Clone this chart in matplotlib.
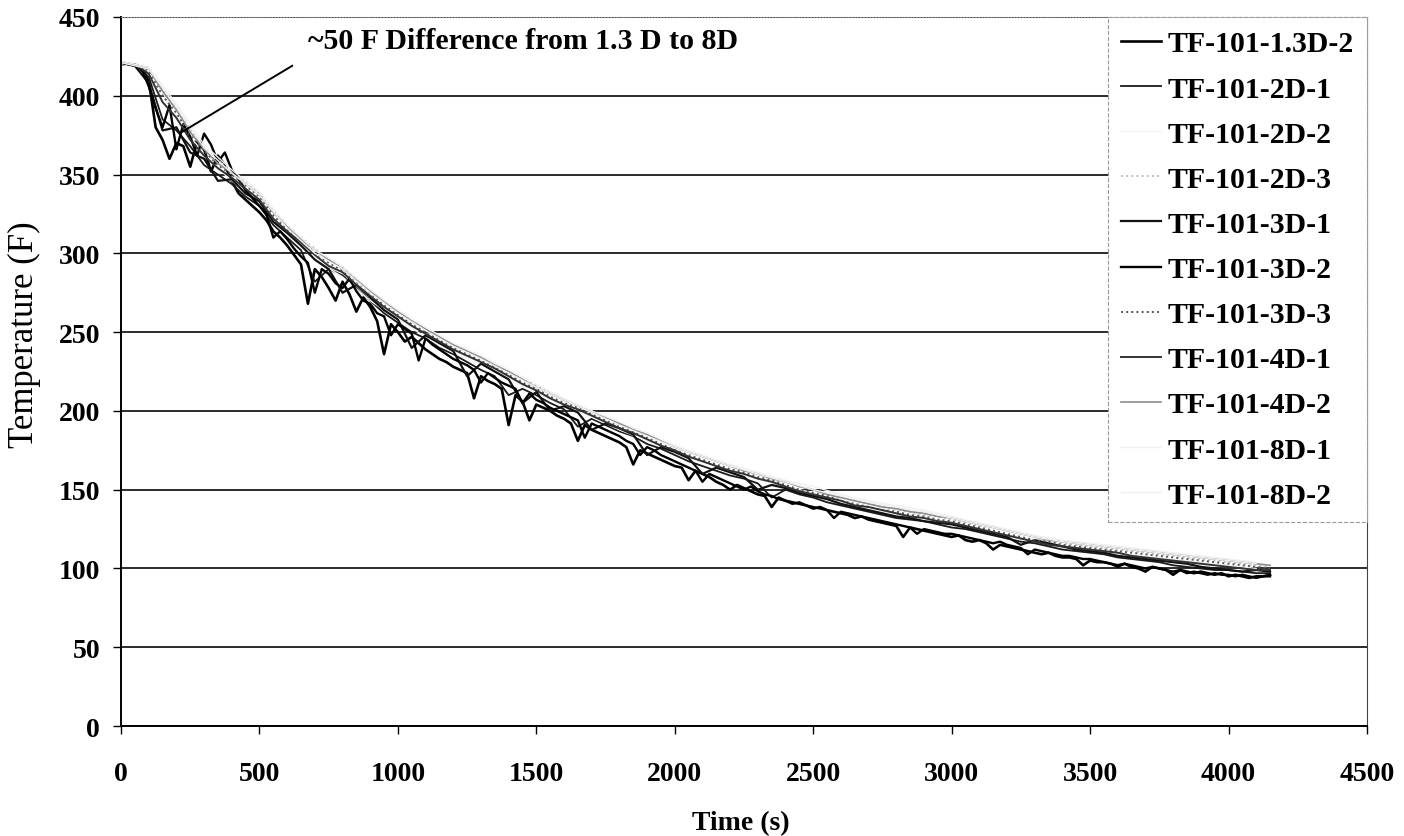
import numpy as np
from matplotlib import pyplot as plt

# sample times (s)
t_fine = np.arange(0, 4151, 25)
t_mid = np.arange(0, 4151, 50)
t_coarse = np.arange(0, 4101, 100)

# thermocouple temperatures (F)
tf_13d_2 = [420, 420, 419, 418, 410, 380, 372, 360, 370, 368, 355, 371, 366, 352, 362, 356, 346, 338, 334, 330,
            326, 321, 314, 310, 305, 299, 293, 268, 290, 285, 278, 270, 282, 274, 263, 272, 266, 257, 236, 255,
            250, 244, 247, 243, 239, 236, 233, 231, 228, 226, 224, 208, 222, 219, 217, 214, 191, 210, 206, 194,
            204, 202, 200, 197, 195, 192, 181, 191, 188, 186, 184, 182, 180, 177, 166, 175, 173, 171, 169, 167,
            165, 164, 156, 162, 160, 158, 155, 153, 150, 153, 151, 149, 147, 146, 139, 145, 143, 142, 141, 140,
            138, 139, 137, 136, 135, 134, 132, 133, 131, 130, 129, 128, 127, 120, 126, 125, 124, 123, 122, 121,
            120, 121, 118, 117, 118, 116, 112, 115, 114, 113, 112, 111, 110, 109, 110, 108, 107, 107, 106, 102,
            105, 104, 104, 103, 102, 103, 101, 100, 98, 101, 100, 99, 96, 99, 98, 97, 98, 97, 96, 97,
            95, 96, 95, 94, 95, 95, 96]
tf_2d_1 = [420, 419, 412, 385, 378, 368, 356, 350, 344, 336,
           330, 318, 310, 302, 282, 290, 286, 278, 270, 262,
           256, 250, 246, 240, 236, 231, 226, 222, 210, 214,
           210, 205, 201, 190, 195, 191, 187, 184, 179, 176,
           172, 168, 165, 162, 159, 157, 154, 145, 150, 147,
           145, 142, 140, 138, 136, 134, 132, 131, 130, 128,
           126, 125, 123, 121, 119, 117, 116, 114, 112, 111,
           110, 109, 107, 106, 105, 104, 102, 101, 100, 99,
           99, 98, 97, 97]
tf_2d_2 = [420, 416, 388, 362, 346, 332, 312, 296, 285, 270, 258, 247, 237, 229, 220, 211, 203, 196, 188, 181, 174,
           168, 162, 157, 152, 148, 143, 139, 136, 133, 129, 125, 121, 118, 115, 112, 110, 108, 106, 104, 102, 100]
tf_2d_3 = [421, 420, 418, 404, 393, 379, 367, 359, 352, 346,
           338, 327, 318, 310, 303, 296, 291, 284, 276, 269,
           263, 257, 252, 247, 242, 238, 234, 229, 225, 220,
           216, 211, 207, 203, 200, 196, 192, 188, 185, 181,
           177, 174, 171, 168, 165, 162, 160, 157, 155, 152,
           150, 147, 145, 143, 141, 139, 137, 136, 134, 133,
           131, 129, 127, 126, 124, 122, 120, 118, 116, 115,
           114, 113, 112, 111, 110, 109, 108, 107, 106, 105,
           104, 103, 102, 101]
tf_3d_1 = [421, 419, 408, 378, 380, 364, 360, 346, 347, 338,
           333, 320, 313, 305, 296, 290, 275, 280, 272, 264,
           258, 240, 248, 243, 238, 222, 230, 225, 220, 205,
           212, 200, 203, 199, 188, 192, 189, 185, 172, 177,
           174, 170, 160, 164, 161, 158, 150, 153, 151, 148,
           146, 144, 141, 139, 137, 135, 133, 132, 130, 129,
           128, 126, 124, 122, 120, 115, 118, 116, 114, 112,
           111, 110, 108, 107, 106, 105, 104, 103, 101, 100,
           99, 98, 99, 98]
tf_3d_2 = [421, 420, 419, 417, 406, 392, 380, 394, 366, 382, 374, 362, 376, 369, 358, 364, 353, 347, 340, 335,
           330, 325, 310, 314, 309, 303, 298, 294, 275, 290, 287, 281, 278, 284, 276, 270, 268, 262, 260, 248,
           255, 252, 249, 232, 246, 242, 239, 236, 233, 231, 229, 226, 218, 224, 221, 218, 216, 214, 205, 211,
           207, 205, 202, 200, 198, 196, 194, 183, 192, 190, 188, 186, 184, 181, 179, 172, 177, 175, 172, 170,
           168, 166, 164, 162, 155, 160, 158, 156, 154, 152, 150, 152, 149, 147, 146, 144, 143, 141, 142, 140,
           139, 138, 137, 132, 136, 135, 134, 133, 132, 131, 130, 129, 128, 127, 126, 122, 125, 124, 123, 122,
           122, 121, 120, 119, 118, 117, 116, 117, 115, 114, 113, 109, 112, 111, 110, 109, 108, 108, 107, 106,
           106, 105, 104, 103, 101, 103, 102, 101, 100, 101, 100, 99, 98, 99, 97, 98, 97, 96, 97, 96,
           96, 95, 96, 95, 94, 95, 95]
tf_3d_3 = [421, 420, 416, 400, 389, 375, 365, 356, 350, 343,
           336, 324, 315, 308, 300, 294, 289, 282, 275, 267,
           261, 255, 250, 245, 240, 236, 232, 228, 223, 218,
           214, 209, 205, 202, 198, 194, 190, 187, 183, 179,
           175, 172, 169, 166, 163, 161, 158, 156, 153, 150,
           148, 146, 143, 141, 139, 137, 136, 134, 133, 131,
           130, 128, 126, 124, 122, 120, 118, 117, 115, 114,
           113, 112, 111, 110, 109, 108, 107, 106, 105, 104,
           103, 102, 101, 100]
tf_4d_1 = [421, 420, 414, 396, 386, 372, 362, 354, 348, 341,
           334, 322, 314, 307, 299, 292, 288, 280, 273, 266,
           260, 254, 249, 244, 239, 235, 231, 227, 222, 217,
           213, 208, 204, 201, 197, 193, 189, 186, 182, 178,
           175, 171, 168, 165, 162, 160, 157, 155, 152, 149,
           147, 145, 143, 140, 139, 137, 135, 133, 132, 130,
           129, 127, 125, 123, 121, 119, 117, 115, 114, 113,
           112, 111, 110, 108, 107, 106, 105, 104, 103, 102,
           101, 100, 99, 99]
tf_4d_2 = [421, 420, 417, 403, 391, 377, 366, 357, 351, 344,
           337, 326, 317, 309, 302, 296, 290, 283, 276, 269,
           263, 257, 252, 247, 242, 238, 234, 229, 225, 220,
           215, 211, 207, 203, 199, 196, 192, 188, 185, 181,
           177, 174, 171, 168, 165, 162, 160, 157, 155, 152,
           150, 147, 145, 143, 141, 139, 138, 136, 135, 133,
           132, 130, 128, 126, 124, 122, 120, 118, 117, 116,
           115, 114, 113, 112, 111, 110, 109, 108, 107, 106,
           105, 104, 103, 102]
tf_8d_1 = [422, 418, 395, 369, 353, 339, 318, 302, 292, 277, 264, 253, 243, 235, 226, 217, 208, 200, 193, 186, 178,
           172, 166, 161, 156, 152, 147, 143, 140, 137, 133, 129, 125, 121, 118, 116, 114, 112, 110, 108, 106, 104]
tf_8d_2 = [421, 417, 393, 367, 351, 337, 316, 300, 290, 275, 262, 251, 241, 233, 224, 215, 207, 199, 191, 184, 177,
           171, 165, 160, 155, 150, 146, 142, 139, 136, 132, 128, 124, 120, 117, 115, 113, 111, 109, 107, 105, 103]

series_names = ['TF-101-1.3D-2', 'TF-101-2D-1', 'TF-101-2D-2', 'TF-101-2D-3', 'TF-101-3D-1', 'TF-101-3D-2',
                'TF-101-3D-3', 'TF-101-4D-1', 'TF-101-4D-2', 'TF-101-8D-1', 'TF-101-8D-2']


def plotTemps():
    plt.rcParams['font.family'] = ['Liberation Serif', 'DejaVu Serif']

    fig = plt.figure(figsize=(14.04, 8.37), dpi=100)
    ax = fig.add_axes([0.0862, 0.1314, 0.8874, 0.8471])

    # time base, values, colour, width, style for each thermocouple
    lines = [
        (t_fine, tf_13d_2, 'black', 1.9, '-'),
        (t_mid, tf_2d_1, '#1a1a1a', 1.3, '-'),
        (t_coarse, tf_2d_2, '#f3f3f3', 1.0, '-'),
        (t_mid, tf_2d_3, '#bdbdbd', 1.4, ':'),
        (t_mid, tf_3d_1, '#111111', 1.6, '-'),
        (t_fine, tf_3d_2, 'black', 1.7, '-'),
        (t_mid, tf_3d_3, '#555555', 1.4, ':'),
        (t_mid, tf_4d_1, '#333333', 1.4, '-'),
        (t_mid, tf_4d_2, '#8c8c8c', 1.2, '-'),
        (t_coarse, tf_8d_1, '#f1f1f1', 1.0, '-'),
        (t_coarse, tf_8d_2, '#efefef', 1.0, '-'),
    ]
    for (t, y, c, lw, ls), name in zip(lines, series_names):
        ax.plot(t, y, color=c, lw=lw, ls=ls, label=name)

    ax.set_xlim(0, 4500)
    ax.set_ylim(0, 450)
    ax.set_xticks(np.arange(0, 4501, 500))
    ax.set_yticks(np.arange(0, 451, 50))
    ax.yaxis.grid(True, color='#1a1a1a', lw=1.3)
    ax.set_axisbelow(True)

    for side in ['left', 'bottom']:
        ax.spines[side].set_color('black')
        ax.spines[side].set_linewidth(1.4)
    ax.spines['right'].set_color('#444444')
    ax.spines['top'].set_color('#888888')
    ax.spines['top'].set_linestyle(':')

    ax.tick_params(axis='both', direction='out', length=6, width=1, labelsize=20)
    ax.tick_params(axis='y', pad=9)
    ax.tick_params(axis='x', pad=19)
    for lab in ax.get_xticklabels() + ax.get_yticklabels():
        lab.set_fontweight('bold')

    # axis titles placed on the figure
    fig.text(0.5278, 0.016, 'Time (s)', fontsize=20, fontweight='bold', ha='center', va='center')
    fig.text(0.0175, 0.60, 'Temperature (F)', fontsize=25, rotation=90, ha='center', va='center')

    # annotation about the spread at the start of the cooldown
    ax.plot([618, 220], [419, 377], color='black', lw=1.4)
    ax.text(675, 435, '~50 F Difference from 1.3 D to 8D', fontsize=21.5, fontweight='bold',
            va='center', ha='left')

    leg = ax.legend(loc='upper right', bbox_to_anchor=(1.0, 1.0), fontsize=21.4, handlelength=1.35,
                    handletextpad=0.2, labelspacing=0.61, borderaxespad=0, borderpad=0.45,
                    fancybox=False, framealpha=1)
    leg.get_frame().set_edgecolor('#9a9a9a')
    leg.get_frame().set_linestyle('--')
    leg.get_frame().set_linewidth(0.8)
    for txt in leg.get_texts():
        txt.set_fontweight('bold')

    fig.savefig('out.png', dpi=100)


if __name__ == '__main__':
    plotTemps()
